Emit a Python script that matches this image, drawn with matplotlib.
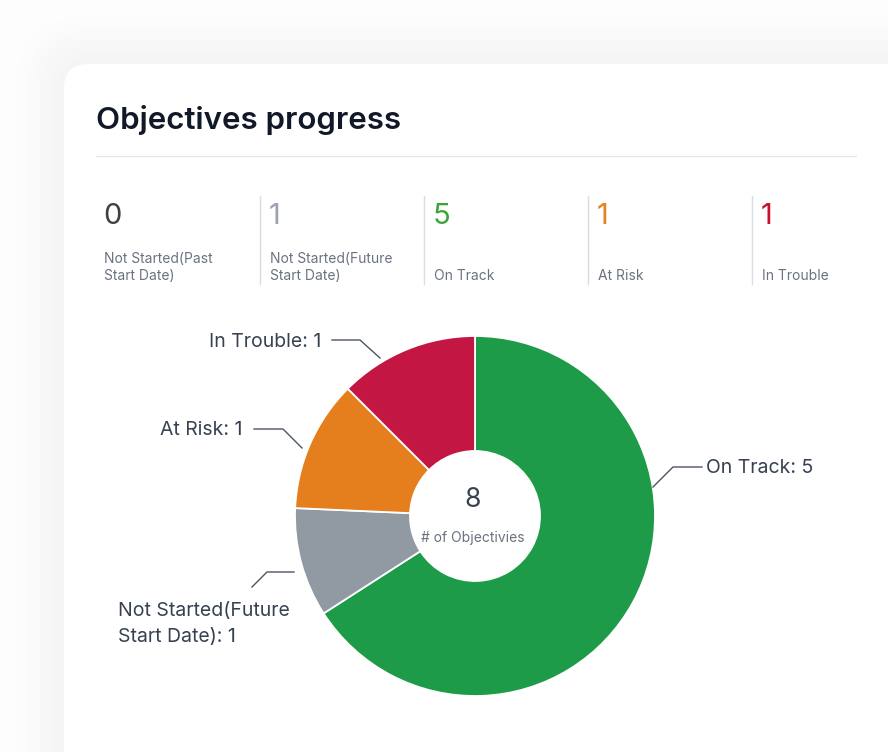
import matplotlib
matplotlib.use("Agg")
import matplotlib.pyplot as plt
from matplotlib.patches import FancyBboxPatch, Circle

plt.rcParams['font.family'] = ['Inter', 'DejaVu Sans']

W, H = 888, 752

# Summary row
stat_labels = ['Not Started(Past\nStart Date)', 'Not Started(Future\nStart Date)', 'On Track', 'At Risk', 'In Trouble']
stat_counts = [0, 1, 5, 1, 1]
stat_colors = ['#3f3f46', '#9ca3af', '#3aa33a', '#e8821e', '#c8102e']

# Donut slices (clockwise from 12 o'clock)
slice_names = ['On Track', 'Not Started(Future\nStart Date)', 'At Risk', 'In Trouble']
slice_counts = [5, 1, 1, 1]
slice_share = [65.9, 9.8, 11.8, 12.5]  # share of the ring as drawn (%)
slice_colors = ['#1e9b48', '#9199a3', '#e57e1d', '#c41642']


def Y(py):
    # pixel row (from top) -> data y
    return H - py


fig = plt.figure(figsize=(W / 100, H / 100), dpi=100)
fig.patch.set_facecolor('#ffffff')
ax = fig.add_axes([0, 0, 1, 1])

# donut
cx, cy, R, r_in = 475, Y(516), 180, 65
ax.pie(slice_share, colors=slice_colors, startangle=90, counterclock=False,
       center=(cx, cy), radius=R,
       wedgeprops=dict(width=R - r_in, edgecolor='white', linewidth=1.3))
ax.set_xlim(0, W)
ax.set_ylim(0, H)
ax.set_aspect('equal')
ax.axis('off')

# background + very soft shadow around the card
ax.add_patch(FancyBboxPatch((0, 0), W, H, boxstyle='square,pad=0', fc='#fdfdfd', ec='none', zorder=-10))
for i in range(8):
    g = 48 - i * 6
    ax.add_patch(FancyBboxPatch((64 - g, -80), W + 80, Y(64) + 80 + g,
                                boxstyle='round,pad=0,rounding_size=%d' % (24 + g),
                                fc='#000000', ec='none', alpha=0.0045, zorder=-9))
ax.add_patch(FancyBboxPatch((64, -50), W, Y(64) + 50,
                            boxstyle='round,pad=0,rounding_size=24',
                            fc='#ffffff', ec='none', zorder=-8))

# title + divider
ax.text(96, Y(129), 'Objectives progress', fontsize=22.5, fontweight='semibold',
        color='#111827', va='baseline', ha='left')
ax.plot([96, 856], [Y(156), Y(156)], color='#e5e7eb', lw=1)

# summary row
col_x = [104, 270, 434, 598, 762]
for i, (lab, n, c) in enumerate(zip(stat_labels, stat_counts, stat_colors)):
    x = col_x[i]
    ax.text(x - 1, Y(216), str(n), fontsize=21, color=c, va='center', ha='left')
    ax.text(x, Y(283.5), lab, fontsize=10, color='#6b7280', va='bottom', ha='left',
            linespacing=1.3)
    if i > 0:
        ax.plot([x - 10, x - 10], [Y(196), Y(284)], color='#d9dce1', lw=1)

# centre of donut
ax.add_patch(Circle((cx, cy), r_in, fc='white', ec='none', zorder=3))
ax.text(cx - 2, Y(500), str(sum(slice_counts)), fontsize=19, color='#374151',
        ha='center', va='center', zorder=4)
ax.text(cx - 2, Y(538), '# of Objectivies', fontsize=10, color='#6b7280',
        ha='center', va='center', zorder=4)

# outside labels with leader lines
leaders = {
    'On Track': ([653, 673, 702], [487, 467, 467], (706, 467, 'left')),
    'Not Started(Future\nStart Date)': ([294, 267, 252], [572, 572, 587], (118, 623, 'left')),
    'At Risk': ([302, 283, 254], [448, 429, 429], (242, 429, 'right')),
    'In Trouble': ([380, 360, 332], [358, 340, 340], (321, 341, 'right')),
}
for name, n in zip(slice_names, slice_counts):
    xs, ys, (tx, ty, ha) = leaders[name]
    ax.plot(xs, [Y(v) for v in ys], color='#4b5563', lw=1)
    ax.text(tx, Y(ty + 1), '%s: %d' % (name, n), fontsize=14, color='#374151',
            ha=ha, va='center', linespacing=1.6)

fig.savefig('out.png', dpi=100, facecolor=fig.get_facecolor())
